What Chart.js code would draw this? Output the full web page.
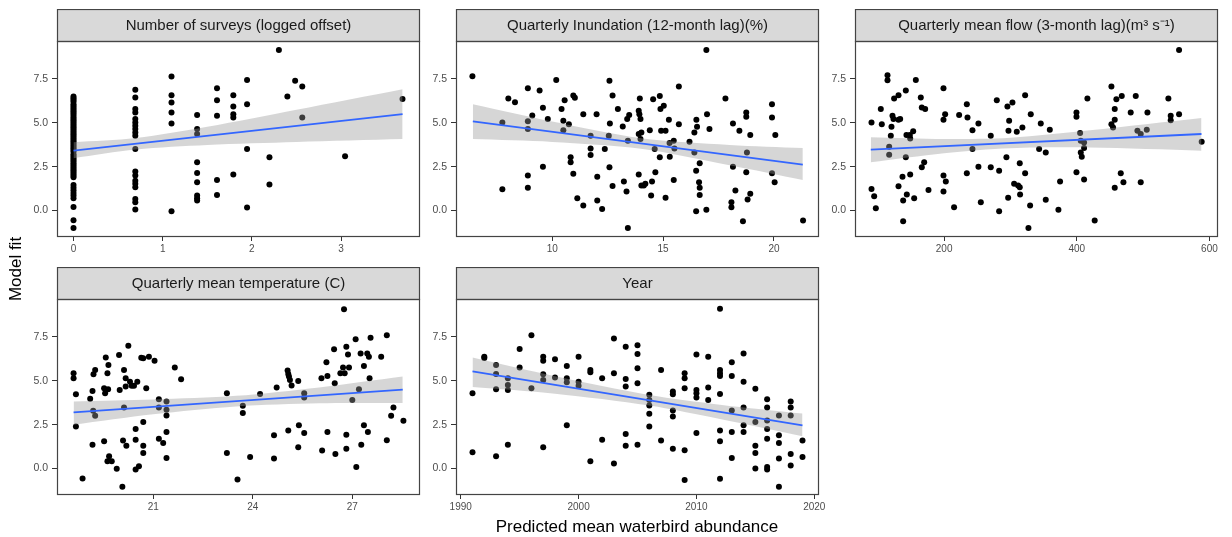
<!DOCTYPE html>
<html>
<head>
<meta charset="utf-8">
<script src="https://cdn.jsdelivr.net/npm/chart.js@4.4.1/dist/chart.umd.min.js"></script>
<style>
  body { margin: 0; background: #fff; }
  #fig { position: relative; width: 1232px; height: 537px; overflow: hidden; font-family: "Liberation Sans", Arial, sans-serif; }
  #fig canvas { position: absolute; }
  .ytitle { position: absolute; left: -34px; top: 259px; width: 100px; height: 20px; line-height: 20px; font-size: 17px; text-align: center; transform: rotate(-90deg); color: #000; }
  .xtitle { position: absolute; left: 437px; top: 517px; width: 400px; height: 20px; line-height: 20px; font-size: 17px; text-align: center; color: #000; }
</style>
</head>
<body>
<div id="fig">
  <canvas id="p1" width="415" height="250" style="left:17px;top:9px"></canvas>
  <canvas id="p2" width="415" height="250" style="left:416px;top:9px"></canvas>
  <canvas id="p3" width="415" height="250" style="left:815px;top:9px"></canvas>
  <canvas id="p4" width="415" height="250" style="left:17px;top:267px"></canvas>
  <canvas id="p5" width="415" height="250" style="left:416px;top:267px"></canvas>
  <div class="ytitle">Model fit</div>
  <div class="xtitle">Predicted mean waterbird abundance</div>
</div>
<script>
// shared y axis
const yTicks = [0, 2.5, 5, 7.5];

// Number of surveys (logged offset): one list of fits per offset level
const surveyLevels = [0, 0.693, 1.099, 1.386, 1.609, 1.792, 1.946, 2.197, 2.303, 2.398, 2.485, 2.565, 3.045, 3.689];
const surveyFits = [
  [6.5, 6.4, 6.3, 6.2, 6.05, 5.95, 5.85, 5.75, 5.65, 5.55, 5.45, 5.35, 5.25, 5.15, 5.05, 4.95, 4.85, 4.75, 4.65, 4.55,
   4.45, 4.35, 4.25, 4.15, 4.05, 3.95, 3.85, 3.75, 3.65, 3.55, 3.45, 3.35, 3.2, 3.1, 3.0, 2.9, 2.8, 2.7, 2.6, 2.5,
   2.4, 2.3, 2.2, 2.1, 2.0, 1.9, 1.45, 1.3, 1.15, 1.0, 0.85, 0.7, 0.2, -0.55, -1.0],
  [6.88, 6.44, 5.78, 5.59, 5.21, 5.02, 4.83, 4.64, 4.45, 4.26, 3.5, 2.22, 1.99, 1.7, 1.52, 1.33, 0.66, 0.47, 0.06],
  [7.63, 6.57, 6.16, 5.59, 4.96, -0.04],
  [5.44, 4.64, 4.36, 2.75, 2.14, 1.61, 0.85, 0.7, 0.57],
  [6.97, 6.29, 5.4, 1.74, 0.89],
  [6.57, 5.93, 5.49, 5.3, 2.05],
  [7.44, 6.06, 3.5, 0.17],
  [3.03, 1.48],
  [9.15],
  [6.5],
  [7.39],
  [7.06, 5.3],
  [3.09],
  [6.36]
];
const surveyTicks = [0, 1, 2, 3];
const surveyFitX = [0, 3.69];
const surveyFitY = [3.41, 5.49];
const surveyBandX = [0, 0.7, 1.5, 2.5, 3.69];
const surveyBandLo = [2.98, 3.47, 3.73, 3.9, 4.07];
const surveyBandHi = [3.89, 4.13, 4.77, 5.74, 6.91];

// Quarterly Inundation (12-month lag)(%)
const inundX = [6.4, 7.75, 7.75, 8.02, 8.32, 8.9, 8.9, 8.9, 8.9, 8.9,
  9.1, 9.43, 9.58, 9.58, 9.8, 10.18, 10.42, 10.5, 10.5, 10.56,
  10.75, 10.83, 10.83, 10.95, 11.02, 10.95, 11.13, 11.4, 11.4, 11.73,
  11.73, 11.73, 12.0, 12.03, 12.03, 12.25, 12.37, 12.58, 12.6, 12.55,
  12.58, 12.72, 12.72, 12.96, 13.18, 13.23, 13.35, 13.38, 13.47, 13.41,
  13.41, 13.95, 13.9, 13.93, 13.98, 13.9, 13.98, 14.02, 13.9, 14.02,
  14.2, 14.13, 14.4, 14.46, 14.5, 14.55, 14.62, 14.65, 14.85, 14.88,
  14.91, 14.85, 15.03, 15.11, 15.11, 15.26, 15.29, 15.3, 15.48, 15.51,
  15.48, 15.71, 15.71, 16.19, 16.41, 16.41, 16.5, 16.53, 16.49, 16.49,
  16.62, 16.65, 16.65, 16.65, 16.95, 16.98, 17.09, 16.95, 17.81, 18.15,
  18.15, 18.08, 18.08, 18.26, 18.44, 18.6, 18.75, 18.75, 18.78, 18.75,
  18.81, 18.93, 18.93, 19.91, 19.91, 19.91, 20.03, 20.06, 21.31];
const inundY = [7.65, 5.02, 1.21, 6.38, 6.17, 6.97, 5.08, 4.64, 1.99, 1.29,
  5.42, 6.84, 5.85, 2.5, 5.21, 7.44, 5.78, 5.11, 4.58, 6.29,
  4.91, 3.03, 2.75, 6.55, 6.42, 2.1, 0.7, 5.49, 0.28, 4.26,
  3.54, 3.16, 5.49, 1.93, 0.57, 0.09, 3.5, 7.39, 4.96, 4.26,
  2.46, 1.4, 6.55, 5.78, 4.79, 1.65, 1.08, 5.21, 5.44, 3.98,
  -1.0, 6.38, 5.68, 5.49, 5.21, 4.36, 4.07, 4.45, 2.05, 1.42,
  1.52, 1.42, 4.58, 0.85, 1.65, 6.34, 3.5, 2.18, 6.53, 5.78,
  4.55, 3.03, 5.97, 4.55, 0.72, 5.17, 3.84, 3.07, 3.98, 3.54,
  1.74, 7.06, 4.92, 3.92, 4.45, 3.31, 5.17, 4.77, 2.27, -0.04,
  1.61, 2.69, 1.29, 0.89, 9.15, 5.49, 4.64, 0.04, 6.38, 4.96,
  2.5, 0.47, 0.19, 1.14, 4.55, -0.61, 5.59, 5.34, 3.31, 2.18,
  0.63, 4.3, 0.95, 6.06, 5.3, 2.12, 1.61, 4.3, -0.57];
const inundTicks = [10, 15, 20];
const inundFitX = [6.42, 21.3];
const inundFitY = [5.08, 2.61];
const inundBandX = [6.42, 10, 14, 18, 21.3];
const inundBandLo = [4.07, 3.91, 3.52, 2.58, 1.74];
const inundBandHi = [6.06, 5.07, 4.12, 3.74, 3.56];

// Quarterly mean flow (3-month lag)
const flowX = [90.5, 90.5, 94.5, 97, 104.5, 106, 114.6, 114.6, 117.1, 117.1,
  119.6, 120.6, 122.1, 123.6, 124.6, 131.2, 131.2, 133.7, 131.2, 137.2,
  138.2, 138.2, 142.2, 142.2, 143.2, 143.7, 148.3, 148.8, 148.8, 153.3,
  154.8, 157.3, 164.8, 166.3, 171.4, 166.3, 169.9, 176.4, 199, 199,
  201.5, 199, 202.5, 199, 215, 222.6, 234.2, 235.2, 242.7, 242.7,
  234.2, 251.7, 251.7, 255.3, 270.3, 270.3, 279.4, 282.9, 282.9, 293.9,
  295.4, 298, 297, 296.5, 303, 305.5, 309.5, 311.5, 314, 314,
  314.5, 318, 322.1, 322.1, 327.1, 329.6, 330.6, 345.7, 343.2, 353.2,
  353.2, 359.3, 374.8, 372.3, 399.5, 399.5, 399.5, 405, 406, 406,
  407.5, 411, 411, 411, 416, 427, 452.2, 452.2, 454.7, 457.2,
  457.2, 457.2, 459.7, 466.3, 467.8, 470.3, 481.3, 488.9, 491.4, 496.4,
  496.4, 505.5, 506.5, 538.1, 541.6, 541.6, 554.2, 554.2, 588.3];
const flowY = [5.02, 1.23, 0.81, 0.13, 5.78, 4.92, 7.71, 7.42, 3.64, 3.18,
  4.26, 4.77, 5.4, 5.21, 6.38, 6.57, 5.17, 5.21, 1.38, 1.93,
  0.57, -0.61, 6.84, 3.03, 4.3, 0.91, 4.3, 4.11, 2.05, 4.51,
  0.7, 7.44, 6.44, 5.87, 5.78, 2.46, 2.75, 1.17, 6.97, 5.17,
  5.49, 1.99, 1.65, 1.08, 0.19, 5.44, 6.06, 5.3, 4.58, 3.5,
  2.12, 4.96, 2.5, 0.47, 4.26, 2.46, 6.29, 2.27, -0.04, 3.03,
  5.93, 5.11, 4.55, 0.72, 6.16, 1.52, 4.49, 1.42, 1.33, 2.69,
  0.91, 4.73, 6.57, 2.12, -1.0, 0.28, 5.49, 4.96, 3.5, 0.61,
  3.31, 4.6, 1.65, 0.04, 5.59, 5.34, 2.18, 4.41, 3.98, 3.31,
  3.07, 3.88, 3.56, 1.76, 6.38, -0.57, 7.06, 4.92, 4.73, 5.78,
  5.17, 1.29, 6.34, 2.12, 6.53, 1.61, 5.59, 6.53, 4.55, 4.36,
  1.61, 4.6, 5.59, 6.38, 5.4, 5.15, 9.15, 5.49, 3.92];
const flowTicks = [200, 400, 600];
const flowFitX = [89.4, 588];
const flowFitY = [3.47, 4.36];
const flowBandX = [89.4, 200, 300, 420, 588];
const flowBandLo = [2.75, 3.27, 3.55, 3.59, 3.41];
const flowBandHi = [4.17, 4.07, 4.15, 4.57, 5.27];

// Quarterly mean temperature (C)
const tempX = [18.6, 18.6, 18.67, 18.67, 18.87, 19.1, 19.17, 19.19, 19.25, 19.17,
  19.2, 19.25, 19.52, 19.55, 19.52, 19.57, 19.62, 19.65, 19.64, 19.62,
  19.67, 19.75, 19.9, 19.97, 19.99, 20.07, 20.09, 20.12, 20.12, 20.17,
  20.17, 20.19, 20.25, 20.3, 20.35, 20.42, 20.47, 20.47, 20.47, 20.52,
  20.57, 20.64, 20.7, 20.7, 20.7, 20.7, 20.79, 20.87, 21.04, 21.17,
  21.17, 21.17, 21.3, 21.4, 21.4, 21.4, 21.4, 21.4, 21.65, 21.84,
  23.22, 23.22, 23.54, 23.7, 23.7, 23.92, 24.22, 24.64, 24.64, 24.72,
  25.05, 25.07, 25.07, 25.09, 25.12, 25.17, 25.37, 25.39, 25.37, 25.55,
  25.55, 25.55, 26.07, 26.09, 26.22, 26.25, 26.25, 26.45, 26.47, 26.49,
  26.64, 26.72, 26.75, 26.82, 26.82, 26.82, 26.77, 26.87, 26.9, 27.0,
  27.1, 27.12, 27.2, 27.25, 27.27, 27.35, 27.35, 27.45, 27.47, 27.5,
  27.52, 27.55, 27.87, 28.04, 28.04, 28.17, 28.24, 28.54];
const tempY = [5.43, 5.14, 4.23, 2.4, -0.57, 3.97, 4.42, 3.29, 3.01, 1.36,
  5.37, 5.61, 4.57, 4.29, 1.55, 6.33, 5.43, 5.9, 4.52, 0.42,
  0.7, 0.42, -0.02, 6.47, 4.48, -1.04, 1.59, 5.61, 3.48, 5.14,
  4.67, 1.3, 6.99, 4.95, 4.71, 4.71, 2.25, 1.64, -0.06, 4.95,
  0.13, 6.31, 6.28, 2.65, 1.3, 0.89, 4.57, 6.37, 6.14, 3.95,
  3.48, 1.7, 1.46, 3.82, 3.35, 3.02, 2.08, 0.6, 5.75, 5.09,
  4.29, 0.89, -0.62, 3.57, 3.16, 0.66, 4.25, 1.89, 0.57, 4.61,
  5.58, 2.17, 5.39, 5.24, 5.05, 4.73, 4.99, 2.46, 1.21, 4.29,
  4.05, 2.02, 5.14, 1.02, 6.05, 5.27, 2.08, 6.79, 4.86, 0.83,
  5.43, 5.75, 9.07, 6.94, 1.93, 1.13, 5.43, 6.5, 5.75, 3.91,
  7.37, 0.09, 4.52, 6.56, 1.36, 5.84, 2.46, 6.56, 2.08, 6.37,
  5.14, 7.45, 6.37, 7.6, 1.61, 3.01, 3.48, 2.72];
const tempTicks = [21, 24, 27];
const tempFitX = [18.6, 28.52];
const tempFitY = [3.2, 4.49];
const tempBandX = [18.6, 21, 23.5, 26, 28.52];
const tempBandLo = [2.5, 3.09, 3.54, 3.72, 3.73];
const tempBandHi = [3.82, 3.93, 4.14, 4.62, 5.24];

// Year: one list of fits per survey year
const years = [1991, 1992, 1993, 1994, 1995, 1996, 1997, 1998, 1999, 2000,
  2001, 2002, 2003, 2004, 2005, 2006, 2007, 2008, 2009, 2010,
  2011, 2012, 2013, 2014, 2015, 2016, 2017, 2018, 2019];
const yearFits = [
  [4.29, 0.93], [6.37, 6.3], [5.9, 5.39, 4.52, 0.7], [5.14, 4.76, 4.48, 1.36], [6.81, 5.75],
  [7.6, 4.57], [6.37, 6.14, 5.37, 5.05, 1.21], [6.22, 5.18], [5.84, 5.14, 4.91, 2.46], [6.37, 4.95, 4.71],
  [5.61, 5.48, 0.42], [5.14, 1.64], [7.41, 5.43, 0.28], [6.94, 5.1, 4.67, 1.97, 1.3], [7.03, 6.52, 5.71, 4.86, 1.36],
  [4.2, 3.91, 3.59, 3.12, 2.4], [5.61, 1.59], [4.39, 4.23, 3.31, 2.97, 1.12], [5.43, 5.14, 4.57, 1.04, -0.66], [6.5, 4.48, 4.29, 4.05, 2.02],
  [6.37, 4.61, 3.91], [9.11, 5.61, 5.43, 5.27, 4.25, 2.17, 1.55, -0.59], [6.05, 5.27, 3.31, 2.08, 0.6], [6.56, 4.95, 3.48, 2.46, 2.08], [4.54, 2.65, 1.3, 0.89, 0.0],
  [3.95, 3.48, 2.74, 2.25, 1.7, 0.09, -0.06], [3.02, 1.89, 1.46, 0.57, -1.04], [3.82, 3.48, 3.02, 0.83, 0.17], [1.59, 0.66]
];
const yearTicks = [1990, 2000, 2010, 2020];
const yearFitX = [1991, 2019];
const yearFitY = [5.53, 2.46];
const yearBandX = [1991, 1998, 2006, 2012, 2019];
const yearBandLo = [4.64, 4.26, 3.59, 2.82, 1.84];
const yearBandHi = [6.32, 5.26, 4.19, 3.64, 3.13];

const FONT = '"Liberation Sans", Arial, sans-serif';
Chart.defaults.font.family = FONT;
const STRIP_H = 32;

const zip = (xs, ys) => xs.map((x, i) => ({ x, y: ys[i] }));
const spread = (levels, lists) => levels.flatMap((x, i) => lists[i].map(y => ({ x, y })));

// grey strip above each panel + dark panel border
const stripPlugin = {
  id: 'strip',
  beforeDraw(chart) {
    const { ctx, chartArea: a } = chart;
    ctx.save();
    ctx.fillStyle = '#d9d9d9';
    ctx.fillRect(a.left, a.top - STRIP_H, a.right - a.left, STRIP_H);
    ctx.strokeStyle = '#444';
    ctx.lineWidth = 1.2;
    ctx.strokeRect(a.left + 0.5, a.top - STRIP_H + 0.5, a.right - a.left - 1, STRIP_H);
    ctx.restore();
  },
  afterDraw(chart) {
    const { ctx, chartArea: a } = chart;
    ctx.save();
    ctx.strokeStyle = '#444';
    ctx.lineWidth = 1.2;
    ctx.strokeRect(a.left + 0.5, a.top + 0.5, a.right - a.left - 1, a.bottom - a.top - 1);
    ctx.restore();
  }
};

function panel(id, title, points, fitX, fitY, bandX, bandLo, bandHi, xMin, xMax, xTicks) {
  new Chart(document.getElementById(id), {
    type: 'line',
    data: {
      datasets: [
        { data: points, showLine: false, pointRadius: 3, pointBackgroundColor: '#000', pointBorderWidth: 0, order: 3 },
        { data: zip(bandX, bandHi), borderColor: 'transparent', borderWidth: 0, pointRadius: 0, tension: 0.3,
          fill: '+1', backgroundColor: 'rgba(153,153,153,0.4)', order: 2 },
        { data: zip(bandX, bandLo), borderColor: 'transparent', borderWidth: 0, pointRadius: 0, tension: 0.3,
          fill: false, order: 2 },
        { data: zip(fitX, fitY), borderColor: '#3366ff', borderWidth: 1.8, pointRadius: 0, fill: false, order: 1 }
      ]
    },
    options: {
      responsive: false,
      animation: false,
      layout: { autoPadding: false, padding: { left: 0, right: 12, top: 0, bottom: 0 } },
      plugins: {
        legend: { display: false },
        tooltip: { enabled: false },
        title: {
          display: true, text: title, fullSize: false, color: '#1a1a1a',
          font: { size: 15, weight: 'normal' }, padding: { top: 8, bottom: 6 }
        }
      },
      scales: {
        x: {
          type: 'linear', min: xMin, max: xMax,
          afterBuildTicks: s => { s.ticks = xTicks.map(v => ({ value: v })); },
          afterFit: s => { s.height = 22; },
          grid: { drawOnChartArea: false, tickLength: 4, color: '#333' },
          border: { display: false },
          ticks: { color: '#4d4d4d', font: { size: 10 }, padding: 2, maxRotation: 0, autoSkip: false, callback: v => String(v) }
        },
        y: {
          min: -1.51, max: 9.66,
          afterBuildTicks: s => { s.ticks = yTicks.map(v => ({ value: v })); },
          afterFit: s => { s.width = 40; },
          grid: { drawOnChartArea: false, tickLength: 5, color: '#333' },
          border: { display: false },
          ticks: { color: '#4d4d4d', font: { size: 10.5 }, padding: 4, callback: v => v.toFixed(1) }
        }
      }
    },
    plugins: [stripPlugin]
  });
}

panel('p1', 'Number of surveys (logged offset)', spread(surveyLevels, surveyFits),
  surveyFitX, surveyFitY, surveyBandX, surveyBandLo, surveyBandHi, -0.185, 3.885, surveyTicks);
panel('p2', 'Quarterly Inundation (12-month lag)(%)', zip(inundX, inundY),
  inundFitX, inundFitY, inundBandX, inundBandLo, inundBandHi, 5.66, 22.03, inundTicks);
panel('p3', 'Quarterly mean flow (3-month lag)(m\u00b3 s\u207b\u00b9)', zip(flowX, flowY),
  flowFitX, flowFitY, flowBandX, flowBandLo, flowBandHi, 65.6, 612.9, flowTicks);
panel('p4', 'Quarterly mean temperature (C)', zip(tempX, tempY),
  tempFitX, tempFitY, tempBandX, tempBandLo, tempBandHi, 18.1, 29.04, tempTicks);
panel('p5', 'Year', spread(years, yearFits),
  yearFitX, yearFitY, yearBandX, yearBandLo, yearBandHi, 1989.6, 2020.4, yearTicks);
</script>
</body>
</html>
